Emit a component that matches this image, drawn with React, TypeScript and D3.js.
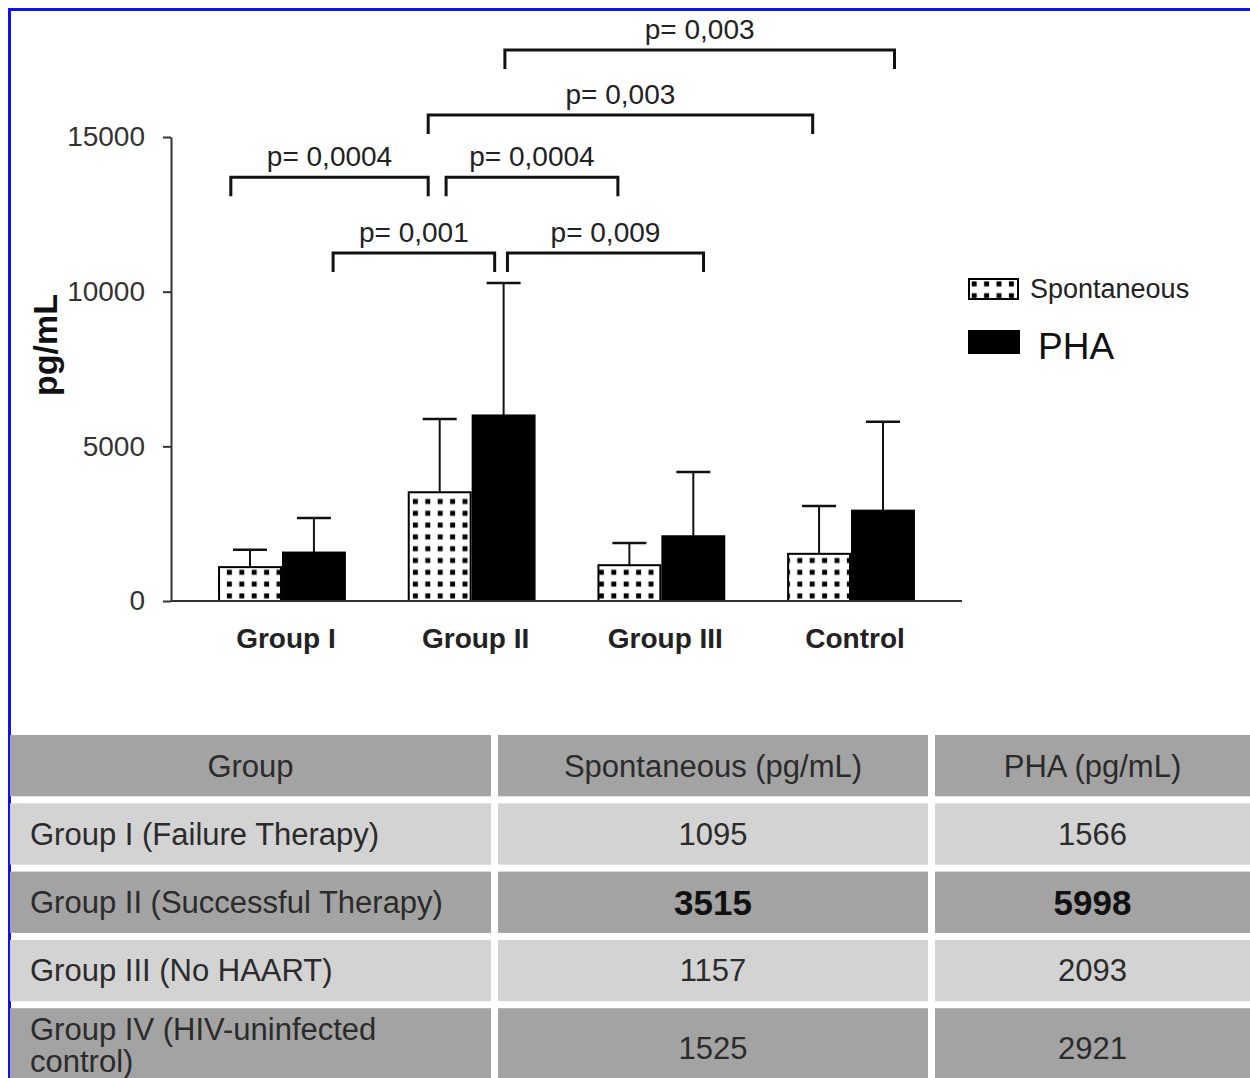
import { useEffect, useRef } from 'react';
import * as d3 from 'd3';

const groups = ['Group I', 'Group II', 'Group III', 'Control'];
const seriesNames = ['Spontaneous', 'PHA'];
const spontMean = [1095, 3515, 1157, 1525];
const phaMean = [1566, 5998, 2093, 2921];
const spontSd = [560, 2370, 720, 1550];
const phaSd = [1120, 4280, 2080, 2870];
const yTicks = [0, 5000, 10000, 15000];

// significance brackets: each end is [group index, place across the pair 0..1], level in pg/mL
const bracketLabels = ['p= 0,0004', 'p= 0,0004', 'p= 0,001', 'p= 0,009', 'p= 0,003', 'p= 0,003'];
const bracketFrom = [[0, 0.1], [1, 0.3], [0, 0.9], [1, 0.78], [1, 0.16], [1, 0.76]];
const bracketTo = [[1, 0.16], [2, 0.16], [1, 0.68], [2, 0.83], [3, 0.2], [3, 0.84]];
const bracketLevel = [13700, 13700, 11250, 11250, 15710, 17810];

const tableHeader = ['Group', 'Spontaneous (pg/mL)', 'PHA (pg/mL)'];
const tableGroups = [
  ['Group I (Failure Therapy)'],
  ['Group II (Successful Therapy)'],
  ['Group III (No HAART)'],
  ['Group IV (HIV-uninfected', 'control)']
];
const boldRow = 1;

const FONT = '"Liberation Sans", Arial, sans-serif';

const App = () => {
  const svgRef = useRef(null);

  useEffect(() => {
    const svg = d3.select(svgRef.current);
    svg.selectAll('*').remove();

    const W = 1250;
    const H = 1078;
    const plotLeft = 171;
    const plotRight = 962;

    svg.attr('width', W).attr('height', H).style('font-family', FONT);

    const defs = svg.append('defs');
    const pat = defs.append('pattern')
      .attr('id', 'dots')
      .attr('patternUnits', 'userSpaceOnUse')
      .attr('width', 12.4)
      .attr('height', 11.8);
    pat.append('rect').attr('width', 12.4).attr('height', 11.8).attr('fill', '#fff');
    pat.append('rect').attr('x', 3.7).attr('y', 3.4).attr('width', 5).attr('height', 5).attr('fill', '#000');

    svg.append('rect').attr('width', W).attr('height', H).attr('fill', '#fff');

    // blue frame
    svg.append('rect')
      .attr('x', 9.5).attr('y', 9.5)
      .attr('width', W + 50).attr('height', H + 50)
      .attr('fill', 'none')
      .attr('stroke', '#1010f0')
      .attr('stroke-width', 3);

    const x = d3.scaleBand()
      .domain(groups)
      .range([plotLeft, plotRight])
      .paddingInner(0.326)
      .paddingOuter(0.248);

    const xSub = d3.scaleBand()
      .domain(seriesNames)
      .range([0, x.bandwidth()]);

    const y = d3.scaleLinear()
      .domain([0, 15000])
      .range([601, 137]);

    const data = groups.map((g, i) => ({
      group: g,
      values: [
        { series: 'Spontaneous', mean: spontMean[i], sd: spontSd[i] },
        { series: 'PHA', mean: phaMean[i], sd: phaSd[i] }
      ]
    }));

    const chart = svg.append('g');

    // error bars (behind bars)
    data.forEach(d => {
      d.values.forEach(v => {
        const cx = x(d.group) + xSub(v.series) + xSub.bandwidth() / 2;
        chart.append('line')
          .attr('x1', cx).attr('x2', cx)
          .attr('y1', y(v.mean)).attr('y2', y(v.mean + v.sd))
          .attr('stroke', '#111').attr('stroke-width', 2);
        chart.append('line')
          .attr('x1', cx - 17).attr('x2', cx + 17)
          .attr('y1', y(v.mean + v.sd)).attr('y2', y(v.mean + v.sd))
          .attr('stroke', '#111').attr('stroke-width', 2.5);
      });
    });

    // bars
    data.forEach(d => {
      chart.selectAll(null)
        .data(d.values)
        .enter()
        .append('rect')
        .attr('x', v => x(d.group) + xSub(v.series) + 1)
        .attr('y', v => y(v.mean))
        .attr('width', xSub.bandwidth() - 2)
        .attr('height', v => y(0) - y(v.mean))
        .attr('fill', v => v.series === 'PHA' ? '#000' : 'url(#dots)')
        .attr('stroke', '#000')
        .attr('stroke-width', 2);
    });

    // y axis
    const yAxis = chart.append('g')
      .attr('transform', `translate(${plotLeft},0)`)
      .call(d3.axisLeft(y)
        .tickValues(yTicks)
        .tickFormat(d3.format('d'))
        .tickSize(8)
        .tickPadding(18)
        .tickSizeOuter(0));
    yAxis.select('.domain').attr('stroke', '#333').attr('stroke-width', 2);
    yAxis.selectAll('.tick line').attr('stroke', '#333').attr('stroke-width', 2);
    yAxis.selectAll('.tick text')
      .attr('font-size', 28)
      .attr('font-family', FONT)
      .attr('fill', '#333');

    // x axis baseline
    chart.append('line')
      .attr('x1', plotLeft).attr('x2', plotRight)
      .attr('y1', y(0)).attr('y2', y(0))
      .attr('stroke', '#333').attr('stroke-width', 2);

    chart.selectAll(null)
      .data(groups)
      .enter()
      .append('text')
      .attr('x', g => x(g) + x.bandwidth() / 2 + 4)
      .attr('y', y(0) + 47)
      .attr('text-anchor', 'middle')
      .attr('font-size', 28)
      .attr('font-weight', 'bold')
      .attr('fill', '#222')
      .text(g => g);

    chart.append('text')
      .attr('transform', `translate(57,${(y(0) + y(15000)) / 2 - 24}) rotate(-90)`)
      .attr('text-anchor', 'middle')
      .attr('font-size', 34)
      .attr('font-weight', 'bold')
      .attr('fill', '#111')
      .text('pg/mL');

    // brackets
    const endX = (e) => x(groups[e[0]]) + e[1] * x.bandwidth();
    bracketLabels.forEach((label, i) => {
      const x1 = endX(bracketFrom[i]);
      const x2 = endX(bracketTo[i]);
      const yy = y(bracketLevel[i]);
      chart.append('path')
        .attr('d', `M${x1},${yy + 19}V${yy}H${x2}V${yy + 19}`)
        .attr('fill', 'none')
        .attr('stroke', '#111')
        .attr('stroke-width', 3);
      chart.append('text')
        .attr('x', (x1 + x2) / 2)
        .attr('y', yy - 11)
        .attr('text-anchor', 'middle')
        .attr('font-size', 28)
        .attr('fill', '#222')
        .text(label);
    });

    // legend
    const legend = svg.append('g').attr('transform', 'translate(968,278)');
    legend.append('rect')
      .attr('x', 1).attr('y', 1).attr('width', 49).attr('height', 20)
      .attr('fill', 'url(#dots)').attr('stroke', '#000').attr('stroke-width', 2);
    legend.append('text')
      .attr('x', 62).attr('y', 11).attr('dy', '0.35em')
      .attr('font-size', 27).attr('fill', '#222')
      .text(seriesNames[0]);
    legend.append('rect')
      .attr('x', 0).attr('y', 52).attr('width', 52).attr('height', 24)
      .attr('fill', '#000');
    legend.append('text')
      .attr('x', 70).attr('y', 68).attr('dy', '0.35em')
      .attr('font-size', 37).attr('fill', '#111')
      .text(seriesNames[1]);

    // table
    const colX = [10, 498, 935];
    const colW = [481, 430, 315];
    const tableTop = 735;
    const rowStep = 68.3;
    const rowH = 61.3;
    const lastRowH = 80;
    const table = svg.append('g');

    const rowTop = (r) => tableTop + r * rowStep;
    const rowHeight = (r) => (r === tableGroups.length ? lastRowH : rowH);
    const rowFill = (r) => (r % 2 === 0 ? '#a3a3a3' : '#d3d3d3');

    // header row 0, body rows 1..n
    d3.range(tableGroups.length + 1).forEach(r => {
      colX.forEach((cx, c) => {
        table.append('rect')
          .attr('x', cx).attr('y', rowTop(r))
          .attr('width', colW[c]).attr('height', rowHeight(r))
          .attr('fill', rowFill(r));
      });
    });

    table.selectAll(null)
      .data(tableHeader)
      .enter()
      .append('text')
      .attr('x', (t, c) => colX[c] + colW[c] / 2)
      .attr('y', rowTop(0) + rowH / 2)
      .attr('dy', '0.35em')
      .attr('text-anchor', 'middle')
      .attr('font-size', 31)
      .attr('fill', '#2b2b2b')
      .text(t => t);

    tableGroups.forEach((lines, i) => {
      const r = i + 1;
      const cy = rowTop(r) + rowHeight(r) / 2;
      const lift = lines.length > 1 ? 3 : 0;
      lines.forEach((line, k) => {
        table.append('text')
          .attr('x', 30)
          .attr('y', cy - lift + (k - (lines.length - 1) / 2) * 32)
          .attr('dy', '0.35em')
          .attr('font-size', 31)
          .attr('fill', '#2b2b2b')
          .text(line);
      });
      [spontMean[i], phaMean[i]].forEach((v, c) => {
        table.append('text')
          .attr('x', colX[c + 1] + colW[c + 1] / 2)
          .attr('y', cy)
          .attr('dy', '0.35em')
          .attr('text-anchor', 'middle')
          .attr('font-size', i === boldRow ? 35 : 31)
          .attr('font-weight', i === boldRow ? 'bold' : 'normal')
          .attr('fill', i === boldRow ? '#111' : '#2b2b2b')
          .text(v);
      });
    });
  }, []);

  return (
    <div style={{ position: 'fixed', left: 0, top: 0, width: 1250, height: 1078, overflow: 'hidden', background: '#fff' }}>
      <svg ref={svgRef} style={{ display: 'block' }} />
    </div>
  );
};

export default App;
